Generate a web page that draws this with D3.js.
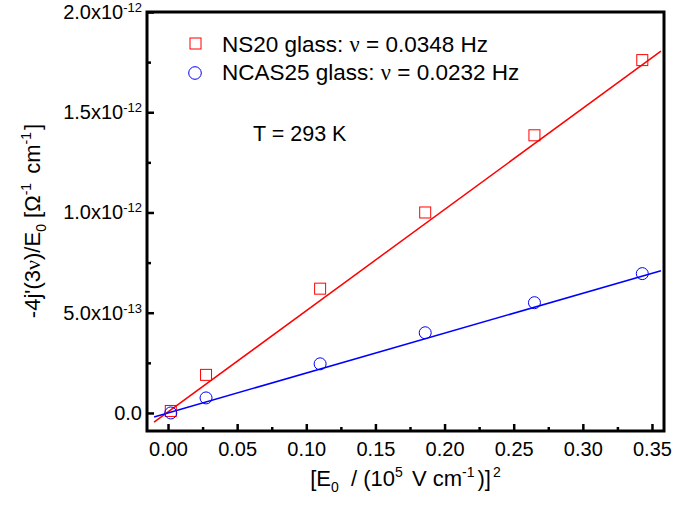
<!DOCTYPE html>
<html>
<head>
<meta charset="utf-8">
<script src="https://cdn.jsdelivr.net/npm/d3@7"></script>
<style>
body{margin:0;background:#fff}
text{font-family:"Liberation Sans",Arial,sans-serif;fill:#000;white-space:pre}
.greek{font-family:"Liberation Serif","Times New Roman",serif}
</style>
</head>
<body>
<script>
// x = [E0 / (1e5 V/cm)]^2, y in units of 1e-12 ohm^-1 cm^-1
var fieldSq = [0.002, 0.0275, 0.110, 0.186, 0.265, 0.343];
var ns20Values = [0.01, 0.19, 0.62, 1.00, 1.385, 1.76];
var ncas25Values = [0.0, 0.075, 0.245, 0.40, 0.55, 0.695];

// linear fits: [intercept, slope] and x range of the drawn line
var ns20Fit = [0.005, 5.05];
var ncas25Fit = [0.0, 1.99];
var fitRange = [-0.0101, 0.3565];

var xTicks = [0, 0.05, 0.10, 0.15, 0.20, 0.25, 0.30, 0.35];
var xMinor = [0.025, 0.075, 0.125, 0.175, 0.225, 0.275, 0.325];
var yTicks = [0, 0.5, 1.0, 1.5, 2.0];
var yMinor = [0.25, 0.75, 1.25, 1.75];
var yTickMant = ["0.0", "5.0x10", "1.0x10", "1.5x10", "2.0x10"];
var yTickExp = ["", "-13", "-12", "-12", "-12"];

var legendNames = ["NS20 glass: ", "NCAS25 glass: "];
var legendFreq = [" = 0.0348 Hz", " = 0.0232 Hz"];

var screen = {width:695, height:510};
var margins = {left:147, right:31, top:12, bottom:79};
var graph = {
    width: screen.width - margins.left - margins.right,
    height: screen.height - margins.top - margins.bottom
};

var xScale = d3.scaleLinear()
    .domain([-0.0152, 0.3587])
    .range([0, graph.width]);

var yScale = d3.scaleLinear()
    .domain([-0.09, 2.0])
    .range([graph.height, 0]);

var svg = d3.select("body")
    .append("svg")
    .attr("width", screen.width)
    .attr("height", screen.height);

var plot = svg.append("g")
    .attr("transform", "translate(" + margins.left + "," + margins.top + ")");

var makeLine = function(fit) {
    var pts = fitRange.map(function(x) { return {x: x, y: fit[0] + fit[1] * x}; });
    return d3.line()
        .x(function(d) { return xScale(d.x); })
        .y(function(d) { return yScale(d.y); })(pts);
};

plot.append("path")
    .attr("d", makeLine(ns20Fit))
    .attr("fill", "none")
    .attr("stroke", "#ff0000")
    .attr("stroke-width", 1.5);

plot.append("path")
    .attr("d", makeLine(ncas25Fit))
    .attr("fill", "none")
    .attr("stroke", "#0000ff")
    .attr("stroke-width", 1.5);

var sq = 11;
plot.selectAll(".sq")
    .data(fieldSq)
    .enter()
    .append("rect")
    .attr("class", "sq")
    .attr("x", function(d) { return xScale(d) - sq / 2; })
    .attr("y", function(d, i) { return yScale(ns20Values[i]) - sq / 2; })
    .attr("width", sq)
    .attr("height", sq)
    .attr("fill", "none")
    .attr("stroke", "#ff0000")
    .attr("stroke-width", 1);

plot.selectAll(".circ")
    .data(fieldSq)
    .enter()
    .append("circle")
    .attr("class", "circ")
    .attr("cx", function(d) { return xScale(d); })
    .attr("cy", function(d, i) { return yScale(ncas25Values[i]); })
    .attr("r", 6)
    .attr("fill", "none")
    .attr("stroke", "#0000ff")
    .attr("stroke-width", 1);

// axes, ticks pointing inward
var xAxis = plot.append("g")
    .attr("transform", "translate(0," + graph.height + ")")
    .call(d3.axisBottom(xScale).tickValues(xTicks).tickSize(-7).tickSizeOuter(0)
        .tickPadding(11).tickFormat(d3.format(".2f")));
xAxis.selectAll("text").attr("font-size", 20).attr("font-family", null);

var xAxisMinor = plot.append("g")
    .attr("transform", "translate(0," + graph.height + ")")
    .call(d3.axisBottom(xScale).tickValues(xMinor).tickSize(-4).tickSizeOuter(0).tickFormat(""));

var yAxis = plot.append("g")
    .call(d3.axisLeft(yScale).tickValues(yTicks).tickSize(-7).tickSizeOuter(0).tickFormat(""));

var yAxisMinor = plot.append("g")
    .call(d3.axisLeft(yScale).tickValues(yMinor).tickSize(-4).tickSizeOuter(0).tickFormat(""));

[xAxis, xAxisMinor, yAxis, yAxisMinor].forEach(function(a) {
    a.select(".domain").remove();
    a.selectAll("line").attr("stroke", "#000").attr("stroke-width", 2.5);
});

var yLab = plot.selectAll(".ylab")
    .data(yTicks)
    .enter()
    .append("text")
    .attr("class", "ylab")
    .attr("x", -5)
    .attr("y", function(d) { return yScale(d); })
    .attr("dy", "0.35em")
    .attr("text-anchor", "end")
    .attr("font-size", 20);
yLab.append("tspan").text(function(d, i) { return yTickMant[i]; });
yLab.append("tspan")
    .attr("font-size", 13)
    .attr("dy", "-0.55em")
    .text(function(d, i) { return yTickExp[i]; });

plot.append("rect")
    .attr("width", graph.width)
    .attr("height", graph.height)
    .attr("fill", "none")
    .attr("stroke", "#000")
    .attr("stroke-width", 3);

// legend
var legend = svg.append("g");
legend.append("rect")
    .attr("x", 190).attr("y", 38).attr("width", 11).attr("height", 11)
    .attr("fill", "none").attr("stroke", "#ff0000");
legend.append("circle")
    .attr("cx", 195).attr("cy", 73).attr("r", 6.3)
    .attr("fill", "none").attr("stroke", "#0000ff");

legendNames.forEach(function(name, i) {
    var t = legend.append("text")
        .attr("x", 222)
        .attr("y", 52 + i * 28)
        .attr("font-size", 22.5);
    t.append("tspan").text(name);
    t.append("tspan").attr("class", "greek").text("\u03bd");
    t.append("tspan").text(legendFreq[i]);
});

svg.append("text")
    .attr("x", 253)
    .attr("y", 141)
    .attr("font-size", 21.5)
    .text("T = 293 K");

// axis titles
var xTitle = svg.append("text")
    .attr("x", margins.left + graph.width / 2)
    .attr("y", 486)
    .attr("text-anchor", "middle")
    .attr("font-size", 22);
xTitle.append("tspan").text("[E");
xTitle.append("tspan").attr("font-size", 14).attr("dy", 6).text("0");
xTitle.append("tspan").attr("dy", -6).text("  / (10");
xTitle.append("tspan").attr("font-size", 14).attr("dy", -9).text("5");
xTitle.append("tspan").attr("dy", 9).attr("dx", 3).text(" V cm");
xTitle.append("tspan").attr("font-size", 14).attr("dy", -9).text("-1");
xTitle.append("tspan").attr("dy", 9).attr("dx", 3).text(")]");
xTitle.append("tspan").attr("font-size", 14).attr("dy", -9).attr("dx", 2).text("2");

var yTitle = svg.append("text")
    .attr("transform", "translate(40,221) rotate(-90)")
    .attr("text-anchor", "middle")
    .attr("font-size", 22);
yTitle.append("tspan").text("-4j'(3");
yTitle.append("tspan").attr("class", "greek").text("\u03bd");
yTitle.append("tspan").text(")/E");
yTitle.append("tspan").attr("font-size", 14).attr("dy", 6).text("0");
yTitle.append("tspan").attr("dy", -6).text(" [\u03a9");
yTitle.append("tspan").attr("font-size", 14).attr("dy", -9).text("-1");
yTitle.append("tspan").attr("dy", 9).attr("dx", 3).text(" cm");
yTitle.append("tspan").attr("font-size", 14).attr("dy", -9).text("-1");
yTitle.append("tspan").attr("dy", 9).attr("dx", 2).text("]");
</script>
</body>
</html>
